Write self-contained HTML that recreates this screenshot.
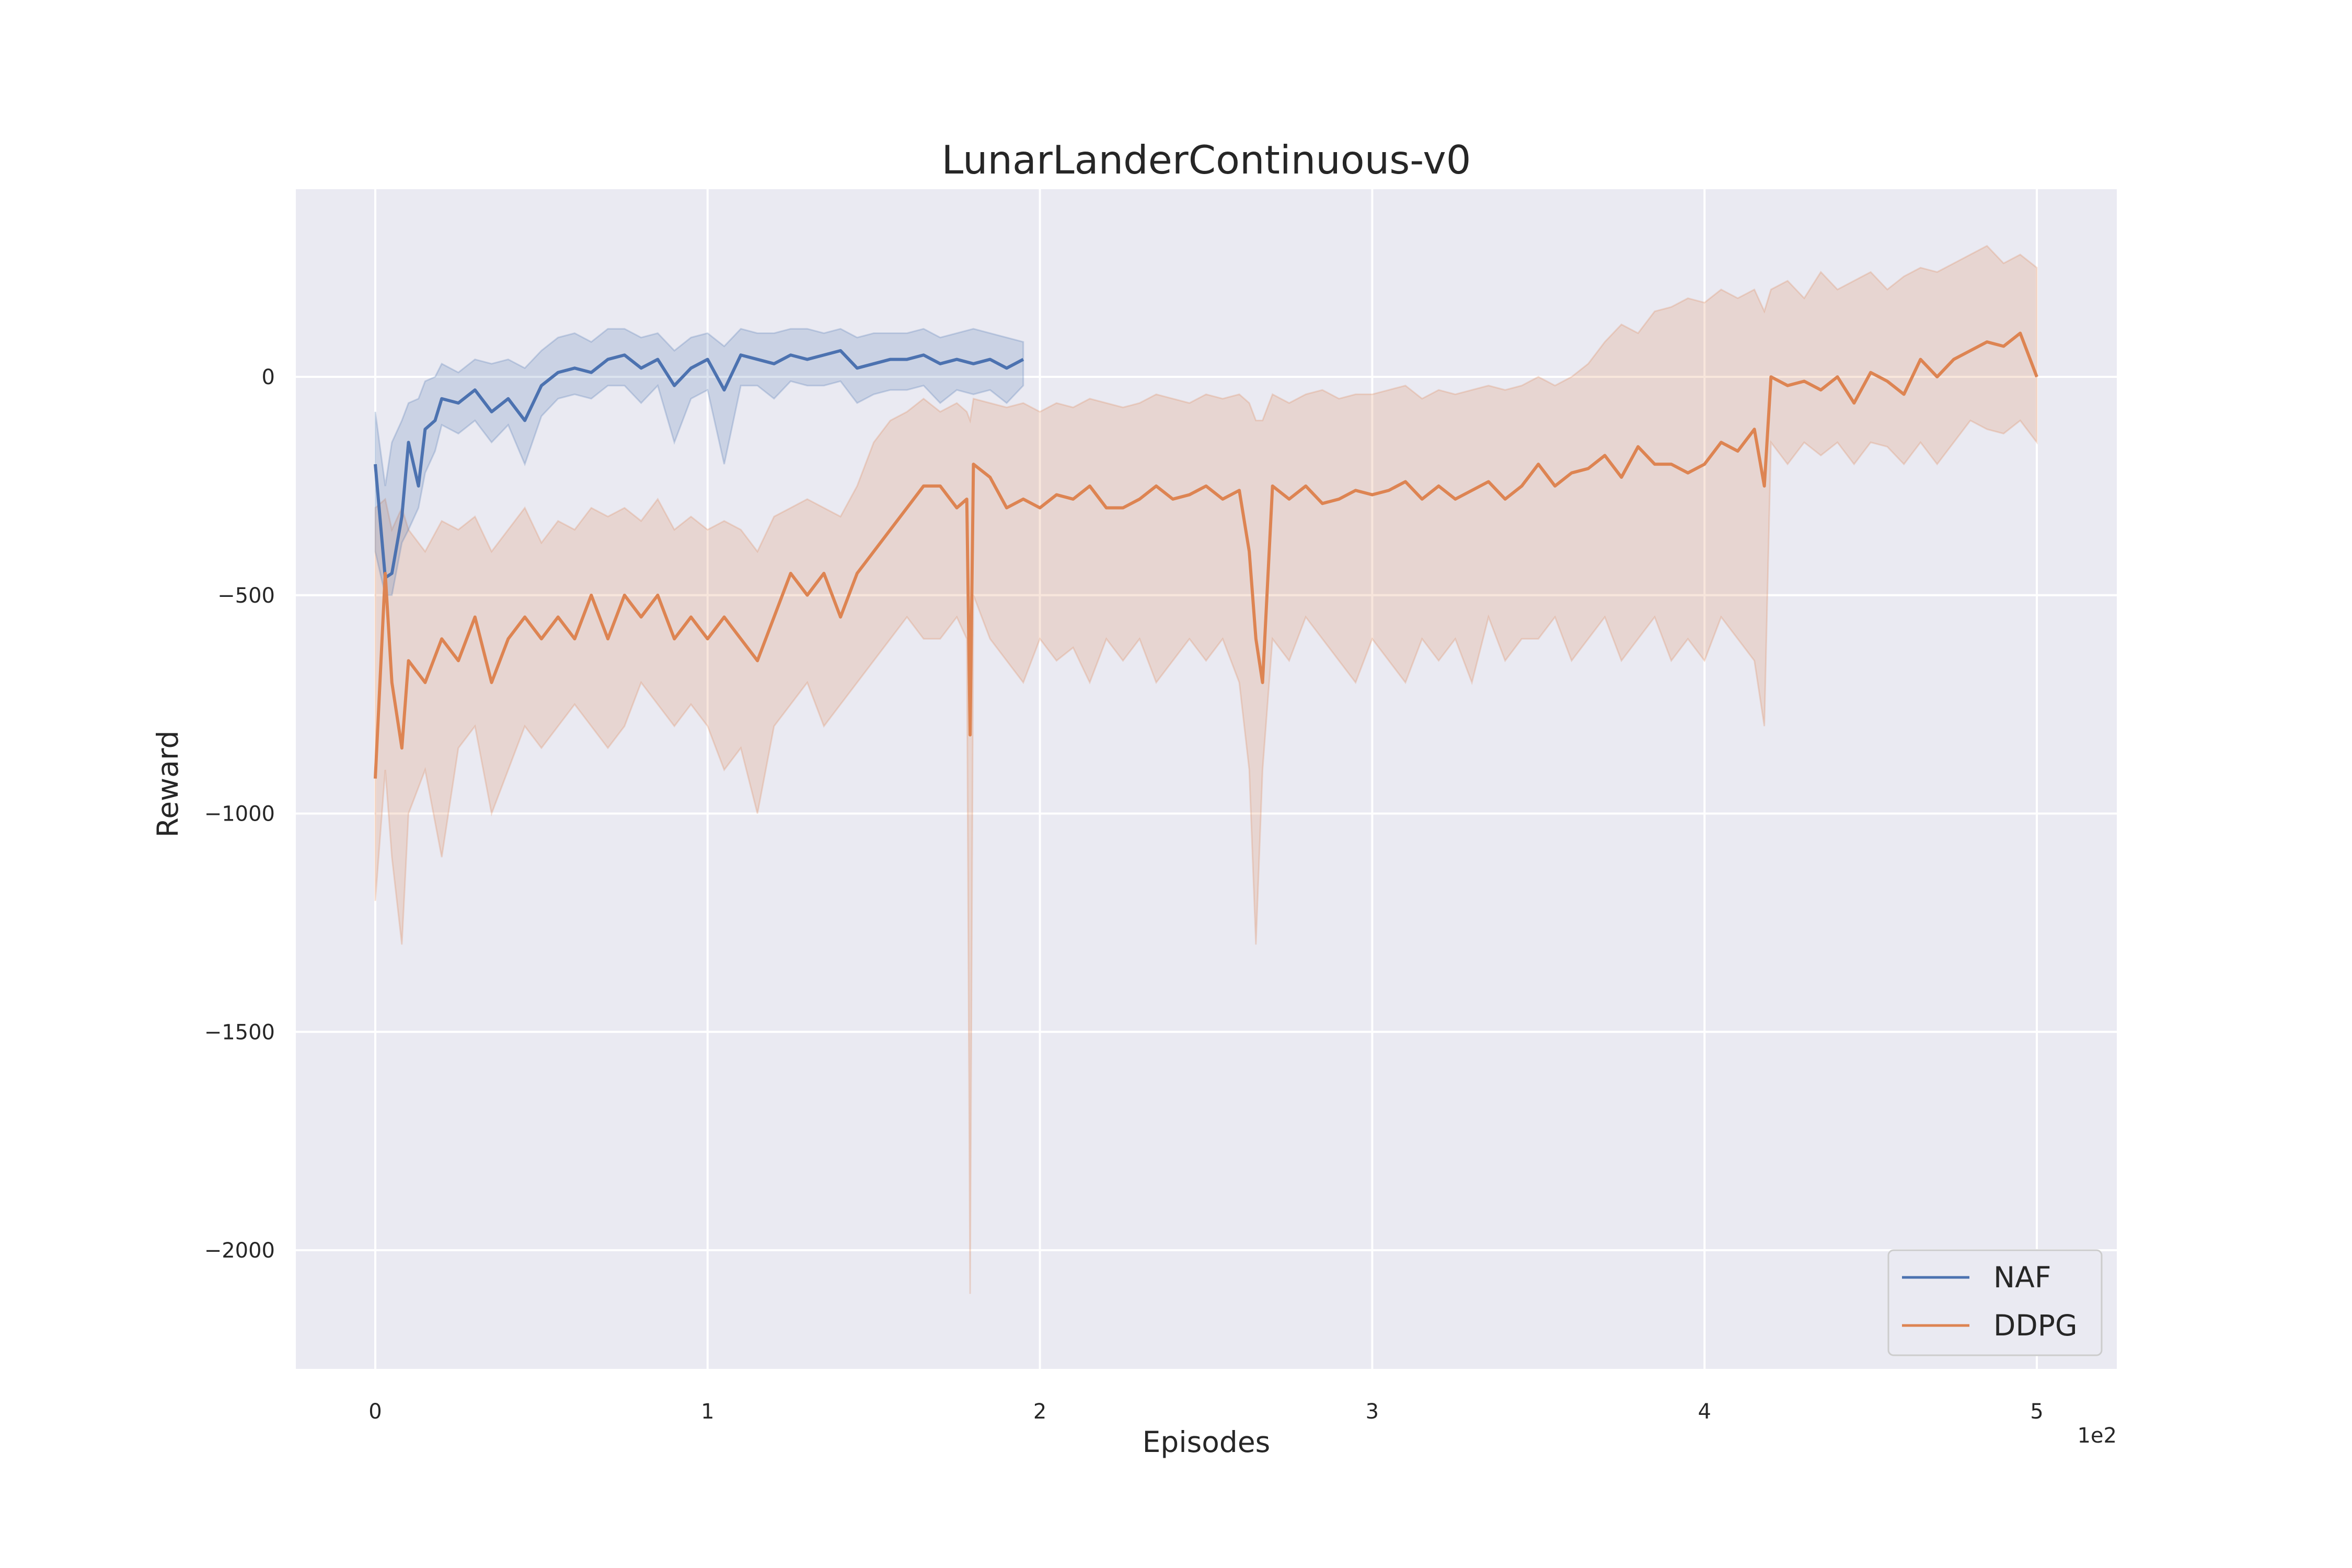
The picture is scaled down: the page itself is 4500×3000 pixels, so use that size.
<!DOCTYPE html>
<html><head><meta charset="utf-8"><style>
html,body{margin:0;padding:0;background:#fff;}
svg{display:block;font-family:"DejaVu Sans","Liberation Sans",sans-serif;}
</style></head><body>
<svg id="chart" width="4500" height="3000" viewBox="0 0 4500 3000" xmlns="http://www.w3.org/2000/svg">
<rect x="566" y="362" width="3484" height="2257" fill="#eaeaf2"/>
<g id="grid"></g>
<g id="bands"></g>
<g id="lines"></g>
<g id="ticks" font-size="40" fill="#262626"></g>
<text x="2308" y="332" font-size="75" text-anchor="middle" fill="#262626">LunarLanderContinuous-v0</text>
<text x="2308" y="2778" font-size="55" text-anchor="middle" fill="#262626">Episodes</text>
<text x="340" y="1500" font-size="55" text-anchor="middle" fill="#262626" transform="rotate(-90 340 1500)">Reward</text>
<text x="4050" y="2760" font-size="40" text-anchor="end" fill="#262626">1e2</text>
<g>
<rect x="3613" y="2392" width="408" height="201" rx="10" fill="#eaeaf2" stroke="#cccccc" stroke-width="3"/>
<line x1="3639" y1="2444" x2="3768" y2="2444" stroke="#4c72b0" stroke-width="5"/>
<text x="3814" y="2463" font-size="55" fill="#262626">NAF</text>
<line x1="3639" y1="2536" x2="3768" y2="2536" stroke="#dd8452" stroke-width="5"/>
<text x="3814" y="2555" font-size="55" fill="#262626">DDPG</text>
</g>
</svg>
<script>
const xTicks=[0,100,200,300,400,500];
const xTickLabels=["0","1","2","3","4","5"];
const yTicks=[0,-500,-1000,-1500,-2000];
const yTickLabels=["0","\u2212500","\u22121000","\u22121500","\u22122000"];
const nafEpisodes=[0,3,5,8,10,13,15,18,20,25,30,35,40,45,50,55,60,65,70,75,80,85,90,95,100,105,110,115,120,125,130,135,140,145,150,155,160,165,170,175,180,185,190,195];
const nafMean=[-200,-460,-450,-320,-150,-250,-120,-100,-50,-60,-30,-80,-50,-100,-20,10,20,10,40,50,20,40,-20,20,40,-30,50,40,30,50,40,50,60,20,30,40,40,50,30,40,30,40,20,40];
const nafLower=[-400,-500,-500,-380,-350,-300,-220,-170,-110,-130,-100,-150,-110,-200,-90,-50,-40,-50,-20,-20,-60,-20,-150,-50,-30,-200,-20,-20,-50,-10,-20,-20,-10,-60,-40,-30,-30,-20,-60,-30,-40,-30,-60,-20];
const nafUpper=[-80,-250,-150,-100,-60,-50,-10,0,30,10,40,30,40,20,60,90,100,80,110,110,90,100,60,90,100,70,110,100,100,110,110,100,110,90,100,100,100,110,90,100,110,100,90,80];
const ddpgEpisodes=[0,3,5,8,10,15,20,25,30,35,40,45,50,55,60,65,70,75,80,85,90,95,100,105,110,115,120,125,130,135,140,145,150,155,160,165,170,175,178,179,180,185,190,195,200,205,210,215,220,225,230,235,240,245,250,255,260,263,265,267,270,275,280,285,290,295,300,305,310,315,320,325,330,335,340,345,350,355,360,365,370,375,380,385,390,395,400,405,410,415,418,420,425,430,435,440,445,450,455,460,465,470,475,480,485,490,495,500];
const ddpgMean=[-920,-450,-700,-850,-650,-700,-600,-650,-550,-700,-600,-550,-600,-550,-600,-500,-600,-500,-550,-500,-600,-550,-600,-550,-600,-650,-550,-450,-500,-450,-550,-450,-400,-350,-300,-250,-250,-300,-280,-820,-200,-230,-300,-280,-300,-270,-280,-250,-300,-300,-280,-250,-280,-270,-250,-280,-260,-400,-600,-700,-250,-280,-250,-290,-280,-260,-270,-260,-240,-280,-250,-280,-260,-240,-280,-250,-200,-250,-220,-210,-180,-230,-160,-200,-200,-220,-200,-150,-170,-120,-250,0,-20,-10,-30,0,-60,10,-10,-40,40,0,40,60,80,70,100,0];
const ddpgLower=[-1200,-900,-1100,-1300,-1000,-900,-1100,-850,-800,-1000,-900,-800,-850,-800,-750,-800,-850,-800,-700,-750,-800,-750,-800,-900,-850,-1000,-800,-750,-700,-800,-750,-700,-650,-600,-550,-600,-600,-550,-600,-2100,-500,-600,-650,-700,-600,-650,-620,-700,-600,-650,-600,-700,-650,-600,-650,-600,-700,-900,-1300,-900,-600,-650,-550,-600,-650,-700,-600,-650,-700,-600,-650,-600,-700,-550,-650,-600,-600,-550,-650,-600,-550,-650,-600,-550,-650,-600,-650,-550,-600,-650,-800,-150,-200,-150,-180,-150,-200,-150,-160,-200,-150,-200,-150,-100,-120,-130,-100,-150];
const ddpgUpper=[-300,-280,-350,-300,-350,-400,-330,-350,-320,-400,-350,-300,-380,-330,-350,-300,-320,-300,-330,-280,-350,-320,-350,-330,-350,-400,-320,-300,-280,-300,-320,-250,-150,-100,-80,-50,-80,-60,-80,-100,-50,-60,-70,-60,-80,-60,-70,-50,-60,-70,-60,-40,-50,-60,-40,-50,-40,-60,-100,-100,-40,-60,-40,-30,-50,-40,-40,-30,-20,-50,-30,-40,-30,-20,-30,-20,0,-20,0,30,80,120,100,150,160,180,170,200,180,200,150,200,220,180,240,200,220,240,200,230,250,240,260,280,300,260,280,250];

const X0=718, XS=6.358, Y0=721, YS=0.8355;
const sx=e=>X0+e*XS, sy=v=>Y0-v*YS;
const NS="http://www.w3.org/2000/svg";
function mk(tag,attrs,parent){const el=document.createElementNS(NS,tag);for(const k in attrs)el.setAttribute(k,attrs[k]);parent.appendChild(el);return el;}
const grid=document.getElementById('grid'), ticks=document.getElementById('ticks');
xTicks.forEach((t,i)=>{
  const g=mk('line',{x1:sx(t),x2:sx(t),y1:362,y2:2619,stroke:'#fff','stroke-width':4},grid);
  
  
  const tx=mk('text',{x:sx(t),y:2714,'text-anchor':'middle'},ticks);
  tx.textContent=xTickLabels[i];
  
  
});
yTicks.forEach((t,i)=>{
  const g=mk('line',{x1:566,x2:4050,y1:sy(t),y2:sy(t),stroke:'#fff','stroke-width':4},grid);
  
  
  const tx=mk('text',{x:526,y:sy(t)+14,'text-anchor':'end'},ticks);
  tx.textContent=yTickLabels[i];
  
  
});
function band(eps,lo,hi,color,name){
  let d='M'+eps.map((e,i)=>sx(e)+','+sy(hi[i])).join('L');
  for(let i=eps.length-1;i>=0;i--)d+='L'+sx(eps[i])+','+sy(lo[i]);
  const p=mk('path',{d:d+'Z',fill:color,'fill-opacity':0.2,stroke:color,'stroke-opacity':0.25,'stroke-width':3},document.getElementById('bands'));
  
  
}
function line(eps,m,color,name){
  const p=mk('path',{d:'M'+eps.map((e,i)=>sx(e)+','+sy(m[i])).join('L'),fill:'none',stroke:color,'stroke-width':6,'stroke-linejoin':'round'},document.getElementById('lines'));
  
  
}
band(ddpgEpisodes,ddpgLower,ddpgUpper,'#dd8452','ddpg-confidence-band');
band(nafEpisodes,nafLower,nafUpper,'#4c72b0','naf-confidence-band');
line(nafEpisodes,nafMean,'#4c72b0','naf-mean-line');
line(ddpgEpisodes,ddpgMean,'#dd8452','ddpg-mean-line');
</script>
</body></html>
